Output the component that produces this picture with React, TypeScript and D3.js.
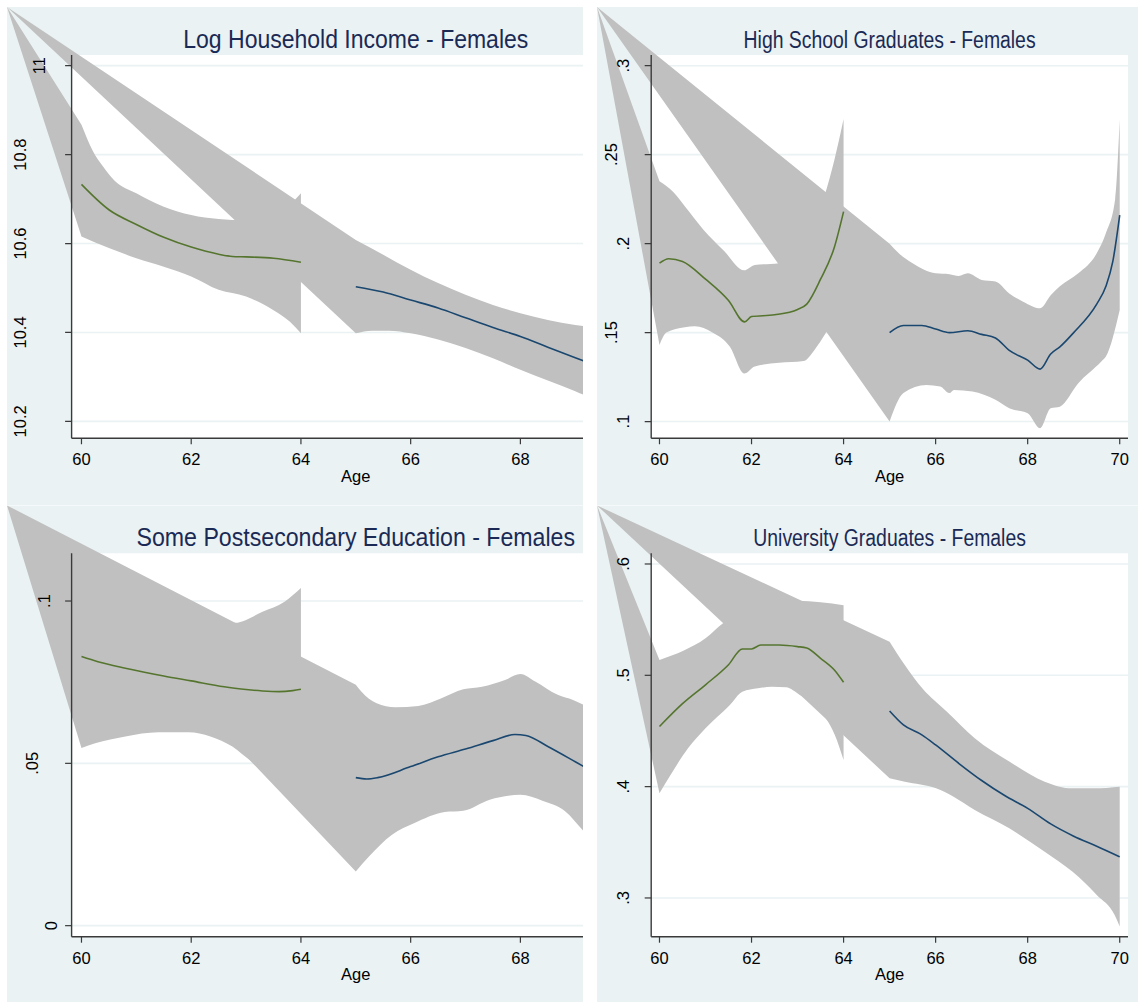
import React from 'react';
import * as d3 from 'd3';

type Pt = [number, number];

// ---------- Log Household Income ----------
const incomeFitEarly: Pt[] = [[60, 10.733], [60.5, 10.676], [61, 10.643], [61.5, 10.614], [62, 10.592], [62.5, 10.576], [62.75, 10.571], [63, 10.57], [63.5, 10.567], [64, 10.558]];
const incomeHiEarly: Pt[] = [[60, 10.867], [60.2, 10.81], [60.4, 10.772], [60.6, 10.742], [61, 10.713], [61.5, 10.683], [62, 10.664], [62.5, 10.655], [62.75, 10.653], [63, 10.655], [63.5, 10.668], [63.8, 10.688], [64, 10.713]];
const incomeLoEarly: Pt[] = [[60, 10.616], [60.5, 10.59], [61, 10.567], [61.5, 10.548], [62, 10.526], [62.5, 10.496], [63, 10.481], [63.5, 10.45], [63.8, 10.424], [64, 10.398]];
const incomeFitLate: Pt[] = [[65, 10.503], [65.5, 10.491], [66, 10.473], [66.5, 10.455], [67, 10.433], [67.5, 10.411], [68, 10.391], [68.5, 10.367], [69, 10.343], [69.5, 10.32], [70, 10.296]];
const incomeHiLate: Pt[] = [[65, 10.608], [65.5, 10.575], [66, 10.541], [66.5, 10.511], [67, 10.485], [67.5, 10.462], [68, 10.443], [68.5, 10.428], [69, 10.417], [69.5, 10.41], [70, 10.4]];
const incomeLoLate: Pt[] = [[65, 10.398], [65.3, 10.404], [65.6, 10.404], [66, 10.398], [66.5, 10.384], [67, 10.365], [67.5, 10.342], [68, 10.316], [68.5, 10.292], [69, 10.268], [69.5, 10.24], [70, 10.21]];

// ---------- High School Graduates ----------
const hsFitEarly: Pt[] = [[60, 0.189], [60.2, 0.1915], [60.5, 0.19], [61, 0.18], [61.5, 0.168], [61.85, 0.156], [62, 0.159], [62.5, 0.16], [63, 0.163], [63.2, 0.166], [63.5, 0.18], [63.8, 0.198], [64, 0.218]];
const hsHiEarly: Pt[] = [[60, 0.235], [60.3, 0.229], [60.55, 0.221], [60.95, 0.208], [61.4, 0.196], [61.84, 0.185], [62.07, 0.188], [62.6, 0.189], [63, 0.196], [63.3, 0.207], [63.6, 0.228], [63.8, 0.247], [64, 0.27]];
const hsLoEarly: Pt[] = [[60, 0.143], [60.15, 0.15], [60.55, 0.153], [60.77, 0.1535], [61.15, 0.15], [61.53, 0.142], [61.84, 0.127], [62.07, 0.131], [62.6, 0.133], [63.13, 0.134], [63.36, 0.14], [63.62, 0.15], [63.8, 0.158], [64, 0.167]];
const hsFitLate: Pt[] = [[65, 0.15], [65.3, 0.154], [65.7, 0.154], [66, 0.152], [66.3, 0.15], [66.7, 0.151], [67, 0.149], [67.3, 0.147], [67.6, 0.14], [68, 0.1345], [68.27, 0.1295], [68.5, 0.138], [68.7, 0.142], [69, 0.15], [69.5, 0.166], [69.7, 0.176], [69.85, 0.19], [70, 0.216]];
const hsHiLate: Pt[] = [[65, 0.2], [65.2, 0.1946], [65.5, 0.189], [66, 0.1833], [66.3, 0.1828], [66.5, 0.1818], [66.7, 0.1833], [67, 0.1796], [67.3, 0.1787], [67.6, 0.172], [67.9, 0.1674], [68.27, 0.1637], [68.5, 0.171], [68.7, 0.176], [69.1, 0.1833], [69.5, 0.1946], [69.7, 0.206], [69.9, 0.225], [70, 0.27]];
const hsLoLate: Pt[] = [[65, 0.1], [65.3, 0.116], [65.8, 0.1206], [66.1, 0.1197], [66.3, 0.116], [66.4, 0.1178], [66.8, 0.1169], [67.3, 0.1122], [67.6, 0.1075], [68, 0.1047], [68.27, 0.0963], [68.5, 0.1075], [68.7, 0.1084], [69.1, 0.1215], [69.6, 0.1337], [69.7, 0.1365], [70, 0.1627]];

// ---------- Some Postsecondary Education ----------
const psFitEarly: Pt[] = [[60, 0.0829], [60.3, 0.0813], [60.8, 0.0793], [61.5, 0.0769], [62, 0.0754], [62.6, 0.0736], [63.3, 0.0723], [63.6, 0.0721], [63.85, 0.0724], [64, 0.0728]];
const psHiEarly: Pt[] = [[60, 0.11], [60.5, 0.104], [61, 0.1], [61.5, 0.097], [62, 0.095], [62.5, 0.094], [62.8, 0.0933], [63.3, 0.0967], [63.7, 0.0998], [64, 0.104]];
const psLoEarly: Pt[] = [[60, 0.0547], [60.25, 0.0562], [60.8, 0.0583], [61.4, 0.0596], [61.95, 0.0596], [62.35, 0.0583], [62.75, 0.0552], [63.1, 0.0506], [63.5, 0.047], [64, 0.046]];
const psFitLate: Pt[] = [[65, 0.0456], [65.2, 0.0452], [65.4, 0.0456], [66, 0.049], [66.5, 0.052], [67, 0.0544], [67.5, 0.057], [67.9, 0.0589], [68.1, 0.0586], [68.5, 0.0552], [69, 0.0505], [69.5, 0.0457], [70, 0.041]];
const psHiLate: Pt[] = [[65, 0.0742], [65.1, 0.0721], [65.38, 0.0685], [65.72, 0.0673], [66.14, 0.0677], [66.55, 0.07], [66.96, 0.0728], [67.3, 0.0736], [67.72, 0.0757], [68, 0.0775], [68.27, 0.0752], [68.68, 0.0711], [68.96, 0.0695], [69.16, 0.068], [69.6, 0.065], [70, 0.062]];
const psLoLate: Pt[] = [[65, 0.0167], [65.24, 0.0213], [65.66, 0.028], [66.07, 0.0316], [66.62, 0.035], [66.96, 0.0354], [67.44, 0.0388], [68, 0.0403], [68.4, 0.0385], [68.82, 0.0352], [69.16, 0.029], [69.6, 0.022], [70, 0.015]];

// ---------- University Graduates ----------
const uniFitEarly: Pt[] = [[60, 0.454], [60.5, 0.4745], [61, 0.4915], [61.5, 0.5095], [61.8, 0.5237], [62, 0.5237], [62.2, 0.5272], [62.6, 0.5272], [63, 0.5258], [63.2, 0.5245], [63.5, 0.5153], [63.8, 0.5048], [64, 0.4937]];
const uniHiEarly: Pt[] = [[60, 0.5138], [60.53, 0.5222], [61, 0.5332], [61.38, 0.5467], [61.8, 0.556], [62.2, 0.562], [62.6, 0.5655], [63, 0.567], [63.5, 0.5656], [64, 0.563]];
const uniLoEarly: Pt[] = [[60, 0.394], [60.24, 0.4105], [60.62, 0.4344], [61, 0.4524], [61.53, 0.4734], [61.8, 0.4853], [62.14, 0.4883], [62.44, 0.4898], [62.75, 0.4892], [63.05, 0.4823], [63.43, 0.4704], [63.81, 0.4464], [64, 0.424]];
const uniFitLate: Pt[] = [[65, 0.468], [65.3, 0.4555], [65.7, 0.4465], [66, 0.4375], [66.5, 0.421], [67, 0.4055], [67.5, 0.392], [68, 0.3805], [68.5, 0.3665], [69, 0.3555], [69.5, 0.3465], [70, 0.337]];
const uniHiLate: Pt[] = [[65, 0.5302], [65.33, 0.5093], [65.71, 0.4883], [66.24, 0.4674], [66.85, 0.4434], [67.6, 0.4225], [68.37, 0.4045], [68.97, 0.3985], [69.43, 0.3985], [70, 0.4]];
const uniLoLate: Pt[] = [[65, 0.4075], [65.33, 0.4045], [66.01, 0.3985], [66.39, 0.391], [66.85, 0.379], [67.6, 0.3626], [68.37, 0.3416], [68.97, 0.3237], [69.5, 0.3027], [69.89, 0.2847], [70, 0.2743]];

// ---------- axes ----------
const ageTicks = [60, 62, 64, 66, 68, 70];
const ageDomain: [number, number] = [59.82, 70.18];

const incomeTicks = [10.2, 10.4, 10.6, 10.8, 11];
const incomeTickLabels = ['10.2', '10.4', '10.6', '10.8', '11'];
const hsTicks = [0.1, 0.15, 0.2, 0.25, 0.3];
const hsTickLabels = ['.1', '.15', '.2', '.25', '.3'];
const psTicks = [0, 0.05, 0.1];
const psTickLabels = ['0', '.05', '.1'];
const uniTicks = [0.3, 0.4, 0.5, 0.6];
const uniTickLabels = ['.3', '.4', '.5', '.6'];

// layout (pixels)
const cols = [
  { bgX0: 7, bgX1: 583, axisX: 71.6, plotX1: 640, titleSize: 25 },
  { bgX0: 597, bgX1: 1138, axisX: 651.2, plotX1: 1128, titleSize: 23.5 },
];
const rows = [
  { bgY0: 7, bgY1: 505.4, plotY0: 55, axisY: 438.3 },
  { bgY0: 505.4, bgY1: 1002, plotY0: 553.3, axisY: 936.7 },
];

const panels = [
  { key: 'inc', title: 'Log Household Income - Females', titleWidth: 345, col: 0, row: 0, yDomain: [10.162, 11.024],
    ticks: incomeTicks, labels: incomeTickLabels,
    fitA: incomeFitEarly, hiA: incomeHiEarly, loA: incomeLoEarly, fitB: incomeFitLate, hiB: incomeHiLate, loB: incomeLoLate },
  { key: 'hs', title: 'High School Graduates - Females', titleWidth: 292, col: 1, row: 0, yDomain: [0.0906, 0.306],
    ticks: hsTicks, labels: hsTickLabels,
    fitA: hsFitEarly, hiA: hsHiEarly, loA: hsLoEarly, fitB: hsFitLate, hiB: hsHiLate, loB: hsLoLate },
  { key: 'ps', title: 'Some Postsecondary Education - Females', titleWidth: 438.5, col: 0, row: 1, yDomain: [-0.0034, 0.1147],
    ticks: psTicks, labels: psTickLabels,
    fitA: psFitEarly, hiA: psHiEarly, loA: psLoEarly, fitB: psFitLate, hiB: psHiLate, loB: psLoLate },
  { key: 'uni', title: 'University Graduates - Females', titleWidth: 272.6, col: 1, row: 1, yDomain: [0.2652, 0.6096],
    ticks: uniTicks, labels: uniTickLabels,
    fitA: uniFitEarly, hiA: uniHiEarly, loA: uniLoEarly, fitB: uniFitLate, hiB: uniHiLate, loB: uniLoLate },
];

const BG = '#eaf2f3';
const BAND = '#c0c0c0';
const GREEN = '#55752f';
const NAVY = '#1a476f';
const TITLE = '#1b2a55';
const FONT = "'Liberation Sans', Arial, sans-serif";

const Panel = ({ p }: { p: typeof panels[number] }) => {
  const c = cols[p.col];
  const r = rows[p.row];
  const x = d3.scaleLinear().domain(ageDomain).range([c.axisX, c.plotX1]);
  const y = d3.scaleLinear().domain(p.yDomain).range([r.axisY, r.plotY0]);
  const line = d3.line<Pt>().x(d => x(d[0])).y(d => y(d[1])).curve(d3.curveMonotoneX);

  // CI areas: the polygon also runs through the graph's top-left corner
  const band = (hi: Pt[], lo: Pt[]) => {
    const up = line(hi) as string;
    const down = line([...lo].reverse()) as string;
    return `M${c.bgX0},${r.bgY0}` + up.replace(/^M/, 'L') + down.replace(/^M/, 'L') + 'Z';
  };

  const midX = (c.axisX + c.plotX1) / 2;
  const clipId = `clip-${p.key}`;
  const labelOffset = (s: string) => 9 + 12 * s.replace(/\./g, '').length + 7 * (s.split('.').length - 1);

  return (
    <g>
      <defs>
        <clipPath id={clipId}>
          <rect x={c.bgX0} y={r.bgY0} width={c.bgX1 - c.bgX0} height={r.bgY1 - r.bgY0} />
        </clipPath>
      </defs>
      <g clipPath={`url(#${clipId})`}>
        <rect x={c.bgX0} y={r.bgY0} width={c.bgX1 - c.bgX0} height={r.bgY1 - r.bgY0} fill={BG} />
        <rect x={c.axisX} y={r.plotY0} width={c.plotX1 - c.axisX} height={r.axisY - r.plotY0} fill="#fff" />
        {p.ticks.map(t => (
          <line key={t} x1={c.axisX} x2={c.plotX1} y1={y(t)} y2={y(t)} stroke={BG} strokeWidth={1.6} />
        ))}
        <path d={band(p.hiA, p.loA)} fill={BAND} />
        <path d={band(p.hiB, p.loB)} fill={BAND} />
        <path d={line(p.fitA) as string} fill="none" stroke={GREEN} strokeWidth={1.6} />
        <path d={line(p.fitB) as string} fill="none" stroke={NAVY} strokeWidth={1.6} />

        {/* axes */}
        <line x1={c.axisX} x2={c.axisX} y1={r.plotY0} y2={r.axisY} stroke="#3a3a3a" strokeWidth={1.4} />
        <line x1={c.axisX} x2={c.plotX1} y1={r.axisY} y2={r.axisY} stroke="#3a3a3a" strokeWidth={1.4} />
        {p.ticks.map((t, i) => (
          <g key={t}>
            <line x1={c.axisX - 6.5} x2={c.axisX} y1={y(t)} y2={y(t)} stroke="#3a3a3a" strokeWidth={1.2} />
            <text
              transform={`translate(${c.axisX - labelOffset(p.labels[i])},${y(t)}) rotate(-90)`}
              textAnchor="middle"
              dominantBaseline="central"
              fontFamily={FONT}
              fontSize={16.5}
              fill="#000"
            >
              {p.labels[i]}
            </text>
          </g>
        ))}
        {ageTicks.map(t => (
          <g key={t}>
            <line x1={x(t)} x2={x(t)} y1={r.axisY} y2={r.axisY + 6} stroke="#3a3a3a" strokeWidth={1.2} />
            <text x={x(t)} y={r.axisY + 27} textAnchor="middle" fontFamily={FONT} fontSize={16.5} fill="#000">
              {t}
            </text>
          </g>
        ))}
        <text x={midX} y={r.axisY + 43.4} textAnchor="middle" fontFamily={FONT} fontSize={16.5} fill="#000">
          Age
        </text>
        <text
          x={midX}
          y={r.plotY0 - 7.3}
          textAnchor="middle"
          fontFamily={FONT}
          fontSize={c.titleSize}
          fill={TITLE}
          textLength={p.titleWidth}
          lengthAdjust="spacingAndGlyphs"
        >
          {p.title}
        </text>
      </g>
    </g>
  );
};

export default function App() {
  return (
    <svg
      width={1138}
      height={1002}
      viewBox="0 0 1138 1002"
      style={{ position: 'absolute', left: 0, top: 0, background: '#fff' }}
    >
      {panels.map(p => (
        <Panel key={p.key} p={p} />
      ))}
    </svg>
  );
}
